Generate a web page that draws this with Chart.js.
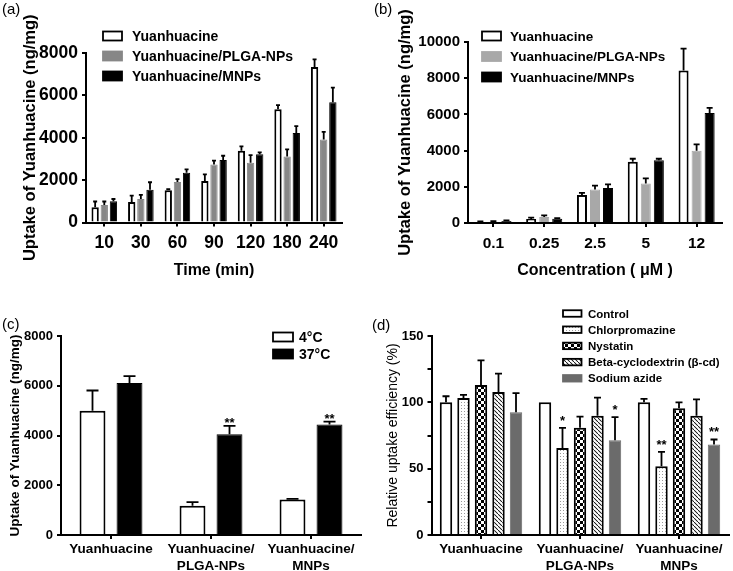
<!DOCTYPE html>
<html>
<head>
<meta charset="utf-8">
<script src="https://cdn.jsdelivr.net/npm/chart.js@4.4.1/dist/chart.umd.min.js"></script>
<style>
  html, body { margin: 0; padding: 0; background: #fff; }
  #figure { position: relative; width: 733px; height: 571px; overflow: hidden; }
  #figure canvas { position: absolute; }
  .tag { position: absolute; font: 15px 'Liberation Sans', Arial, sans-serif; color: #000; }
</style>
</head>
<body>
<div id="figure">
  <canvas id="chartA" width="370" height="290" style="left:0;top:0"></canvas>
  <canvas id="chartB" width="363" height="290" style="left:370px;top:0"></canvas>
  <canvas id="chartC" width="370" height="281" style="left:0;top:290px"></canvas>
  <canvas id="chartD" width="363" height="281" style="left:370px;top:290px"></canvas>
  <div class="tag" style="left:2px;top:0">(a)</div>
  <div class="tag" style="left:374px;top:0">(b)</div>
  <div class="tag" style="left:2px;top:315px">(c)</div>
  <div class="tag" style="left:372px;top:316px">(d)</div>
</div>
<script>
// ============================================
// DATA
// ============================================

// (a) uptake over time
const timeLabels = ['10', '30', '60', '90', '120', '180', '240'];
const timeFree = [720, 970, 1520, 1960, 3390, 5350, 7340];
const timeFreeErr = [270, 300, 50, 310, 200, 190, 360];
const timePlga = [830, 1110, 1910, 2740, 2820, 3110, 3920];
const timePlgaErr = [160, 190, 140, 180, 360, 340, 360];
const timeMnp = [1000, 1540, 2350, 2950, 3220, 4220, 5680];
const timeMnpErr = [110, 360, 160, 200, 90, 330, 690];

// (b) uptake vs concentration
const concLabels = ['0.1', '0.25', '2.5', '5', '12'];
const concFree = [55, 220, 1550, 3380, 8430];
const concFreeErr = [35, 80, 110, 170, 1200];
const concPlga = [70, 330, 1850, 2180, 3990];
const concPlgaErr = [30, 95, 220, 280, 350];
const concMnp = [110, 240, 1940, 3460, 6080];
const concMnpErr = [40, 30, 190, 90, 280];

// (c) temperature
const formLabels = [['Yuanhuacine'], ['Yuanhuacine/', 'PLGA-NPs'], ['Yuanhuacine/', 'MNPs']];
const temp4 = [5000, 1180, 1430];
const temp4Err = [810, 140, 20];
const temp37 = [6110, 4050, 4440];
const temp37Err = [280, 340, 120];
const temp37Sig = ['', '**', '**'];

// (d) endocytosis inhibitors, % of control
const control = [100, 100, 100];
const controlErr = [4.6, 0, 2.6];
const chlorpromazine = [103.3, 65.5, 51.9];
const chlorpromazineErr = [2.3, 15.3, 10.8];
const chlorpromazineSig = ['', '*', '**'];
const nystatin = [113, 80.8, 95.6];
const nystatinErr = [18.7, 8.5, 4.4];
const betaCd = [107.8, 89.8, 89.8];
const betaCdErr = [13.8, 13.8, 12.5];
const sodiumAzide = [92.5, 71.5, 68.2];
const sodiumAzideErr = [14.5, 17.3, 3.8];
const sodiumAzideSig = ['', '*', '**'];

// ============================================
// PLUGINS
// ============================================

Chart.defaults.font.family = "'Liberation Sans', Arial, sans-serif";
Chart.defaults.color = '#000';

// Upper error bars and significance marks, placed through the y scale
const errorBars = {
  id: 'errorBars',
  afterDatasetsDraw(chart, args, opts) {
    const ctx = chart.ctx;
    const yScale = chart.scales.y;
    chart.data.datasets.forEach((ds, i) => {
      if (!ds.errors) return;
      const meta = chart.getDatasetMeta(i);
      meta.data.forEach((bar, j) => {
        const top = yScale.getPixelForValue(ds.data[j] + ds.errors[j]);
        ctx.save();
        ctx.strokeStyle = '#000';
        ctx.lineWidth = opts.lineWidth;
        if (ds.errors[j] > 0) {
          ctx.beginPath();
          ctx.moveTo(bar.x, bar.y);
          ctx.lineTo(bar.x, top);
          ctx.moveTo(bar.x - opts.cap / 2, top);
          ctx.lineTo(bar.x + opts.cap / 2, top);
          ctx.stroke();
        }
        if (ds.marks && ds.marks[j]) {
          ctx.fillStyle = '#000';
          ctx.font = opts.markFont;
          ctx.textAlign = 'center';
          ctx.textBaseline = 'alphabetic';
          ctx.fillText(ds.marks[j], bar.x, top - opts.markGap);
        }
        ctx.restore();
      });
    });
  },
};

// Boxed legend stacked vertically inside the plot
const boxLegend = {
  id: 'boxLegend',
  afterDraw(chart, args, opts) {
    const ctx = chart.ctx;
    ctx.save();
    ctx.font = opts.font;
    ctx.textBaseline = 'middle';
    chart.data.datasets.forEach((ds, i) => {
      const y = opts.y + i * opts.row;
      ctx.fillStyle = ds.backgroundColor;
      ctx.fillRect(opts.x, y - opts.boxH / 2, opts.boxW, opts.boxH);
      ctx.lineWidth = 1.8;
      ctx.strokeStyle = ds.borderColor;
      ctx.strokeRect(opts.x, y - opts.boxH / 2, opts.boxW, opts.boxH);
      ctx.fillStyle = '#000';
      ctx.fillText(ds.label, opts.x + opts.boxW + opts.gap, y + 1);
    });
    ctx.restore();
  },
};

Chart.register(errorBars, boxLegend);

// ============================================
// PATTERNS
// ============================================

function makePattern(size, draw) {
  const c = document.createElement('canvas');
  c.width = size;
  c.height = size;
  const g = c.getContext('2d');
  g.fillStyle = '#fff';
  g.fillRect(0, 0, size, size);
  draw(g, size);
  return g.createPattern(c, 'repeat');
}

const dotsFill = makePattern(3, (g) => {
  g.fillStyle = '#9a9a9a';
  g.fillRect(1, 1, 1, 1);
});
const checkerFill = makePattern(6, (g) => {
  g.fillStyle = '#000';
  g.fillRect(0, 0, 6, 6);
  g.fillStyle = '#fff';
  g.fillRect(0, 0, 3, 3);
  g.fillRect(3, 3, 3, 3);
});
const hatchFill = makePattern(4, (g) => {
  g.fillStyle = '#222';
  for (let i = 0; i < 4; i++) g.fillRect(i, i, 1.2, 1.2);
});

// ============================================
// CHARTS
// ============================================

function panelOptions(p) {
  return {
    responsive: false,
    animation: false,
    events: [],
    layout: { padding: p.padding },
    datasets: { bar: { categoryPercentage: p.catPct, barPercentage: p.barPct } },
    plugins: {
      legend: { display: false },
      tooltip: { enabled: false },
      boxLegend: p.legend,
      errorBars: p.errors,
    },
    scales: {
      x: {
        afterFit: (axis) => { axis.height = p.xHeight; },
        grid: { drawOnChartArea: false, tickLength: 4, offset: false, color: '#000', lineWidth: 2 },
        border: { color: '#000', width: 2 },
        ticks: { color: '#000', font: p.xFont, padding: p.xPad, maxRotation: 0, autoSkip: false },
        title: {
          display: !!p.xTitle,
          text: p.xTitle || '',
          color: '#000',
          font: p.xTitleFont,
          padding: { top: 0, bottom: p.xTitlePad || 0 },
        },
      },
      y: {
        min: 0,
        max: p.max,
        afterFit: (axis) => { axis.width = p.yWidth; },
        grid: { drawOnChartArea: false, tickLength: 4, color: '#000', lineWidth: 2 },
        border: { color: '#000', width: 2 },
        ticks: { stepSize: p.step, color: '#000', font: p.yFont, padding: 4, callback: p.yCallback },
        title: {
          display: true,
          text: p.yTitle,
          color: '#000',
          font: p.yTitleFont,
          padding: { top: p.yTitlePad, bottom: 0 },
        },
      },
    },
  };
}

const bold = (size) => ({ size: size, weight: 'bold' });

window.addEventListener('load', function () {
  new Chart(document.getElementById('chartA'), {
    type: 'bar',
    data: {
      labels: timeLabels,
      datasets: [
        { label: 'Yuanhuacine', data: timeFree, errors: timeFreeErr, backgroundColor: '#fff', borderColor: '#000', borderWidth: 2 },
        { label: 'Yuanhuacine/PLGA-NPs', data: timePlga, errors: timePlgaErr, backgroundColor: '#878787', borderColor: '#878787', borderWidth: 1 },
        { label: 'Yuanhuacine/MNPs', data: timeMnp, errors: timeMnpErr, backgroundColor: '#000', borderColor: '#000', borderWidth: 1 },
      ],
    },
    options: panelOptions({
      padding: { left: 0, top: 53, right: 28, bottom: 0 },
      yWidth: 86, xHeight: 67.5, max: 8000, step: 2000,
      catPct: 0.75, barPct: 0.8,
      yFont: bold(17.5), xFont: bold(17.5), xPad: 6,
      yTitle: 'Uptake of Yuanhuacine (ng/mg)', yTitleFont: bold(16.5), yTitlePad: 21,
      xTitle: 'Time (min)', xTitleFont: bold(16), xTitlePad: 10,
      legend: { x: 103, y: 36, row: 20, boxW: 19, boxH: 9, gap: 10, font: "bold 14px 'Liberation Sans', Arial" },
      errors: { lineWidth: 1.8, cap: 4, markFont: "bold 12px 'Liberation Sans', Arial", markGap: 4 },
    }),
  });

  new Chart(document.getElementById('chartB'), {
    type: 'bar',
    data: {
      labels: concLabels,
      datasets: [
        { label: 'Yuanhuacine', data: concFree, errors: concFreeErr, backgroundColor: '#fff', borderColor: '#000', borderWidth: 2 },
        { label: 'Yuanhuacine/PLGA-NPs', data: concPlga, errors: concPlgaErr, backgroundColor: '#a8a8a8', borderColor: '#a8a8a8', borderWidth: 1 },
        { label: 'Yuanhuacine/MNPs', data: concMnp, errors: concMnpErr, backgroundColor: '#000', borderColor: '#000', borderWidth: 1 },
      ],
    },
    options: panelOptions({
      padding: { left: 0, top: 42, right: 11, bottom: 0 },
      yWidth: 98, xHeight: 67, max: 10000, step: 2000,
      catPct: 0.77, barPct: 0.77,
      yFont: bold(15), xFont: bold(15.5), xPad: 7,
      yTitle: 'Uptake of Yuanhuacine (ng/mg)', yTitleFont: bold(16.5), yTitlePad: 26,
      xTitle: 'Concentration ( μM )', xTitleFont: bold(16), xTitlePad: 10,
      legend: { x: 112, y: 36, row: 20.5, boxW: 19, boxH: 9, gap: 9, font: "bold 13.5px 'Liberation Sans', Arial" },
      errors: { lineWidth: 1.8, cap: 6, markFont: "bold 12px 'Liberation Sans', Arial", markGap: 4 },
    }),
  });

  new Chart(document.getElementById('chartC'), {
    type: 'bar',
    data: {
      labels: formLabels,
      datasets: [
        { label: '4°C', data: temp4, errors: temp4Err, backgroundColor: '#fff', borderColor: '#000', borderWidth: 2 },
        { label: '37°C', data: temp37, errors: temp37Err, marks: temp37Sig, backgroundColor: '#000', borderColor: '#000', borderWidth: 1 },
      ],
    },
    options: panelOptions({
      padding: { left: 0, top: 46, right: 9, bottom: 0 },
      yWidth: 61, xHeight: 36, max: 8000, step: 2000,
      catPct: 0.74, barPct: 0.7,
      yFont: bold(13), xFont: { size: 13.5, weight: 'bold', lineHeight: 1.25 }, xPad: 2,
      yTitle: 'Uptake of Yuanhuacine (ng/mg)', yTitleFont: bold(13.5), yTitlePad: 7,
      legend: { x: 273, y: 47, row: 17, boxW: 20, boxH: 9, gap: 6, font: "bold 14px 'Liberation Sans', Arial" },
      errors: { lineWidth: 1.8, cap: 12, markFont: "bold 13px 'Liberation Sans', Arial", markGap: -1 },
    }),
  });

  new Chart(document.getElementById('chartD'), {
    type: 'bar',
    data: {
      labels: formLabels,
      datasets: [
        { label: 'Control', data: control, errors: controlErr, backgroundColor: '#fff', borderColor: '#000', borderWidth: 2 },
        { label: 'Chlorpromazine', data: chlorpromazine, errors: chlorpromazineErr, marks: chlorpromazineSig, backgroundColor: dotsFill, borderColor: '#000', borderWidth: 2 },
        { label: 'Nystatin', data: nystatin, errors: nystatinErr, backgroundColor: checkerFill, borderColor: '#000', borderWidth: 2 },
        { label: 'Beta-cyclodextrin (β-cd)', data: betaCd, errors: betaCdErr, backgroundColor: hatchFill, borderColor: '#000', borderWidth: 2 },
        { label: 'Sodium azide', data: sodiumAzide, errors: sodiumAzideErr, marks: sodiumAzideSig, backgroundColor: '#6b6b6b', borderColor: '#6b6b6b', borderWidth: 1 },
      ],
    },
    options: panelOptions({
      padding: { left: 0, top: 46, right: 4.5, bottom: 0 },
      yWidth: 61.5, xHeight: 36, max: 150, step: 25,
      yCallback: (v) => (v % 50 === 0 ? v : ''),
      catPct: 0.884, barPct: 0.71,
      yFont: bold(13), xFont: { size: 13.5, weight: 'bold', lineHeight: 1.25 }, xPad: 2,
      yTitle: 'Relative uptake efficiency (%)', yTitleFont: { size: 14, weight: 'normal' }, yTitlePad: 14.6,
      legend: { x: 193, y: 23.5, row: 16.2, boxW: 18.5, boxH: 6.5, gap: 6.5, font: "bold 11.5px 'Liberation Sans', Arial" },
      errors: { lineWidth: 1.8, cap: 7, markFont: "bold 13px 'Liberation Sans', Arial", markGap: 3 },
    }),
  });
});
</script>
</body>
</html>
